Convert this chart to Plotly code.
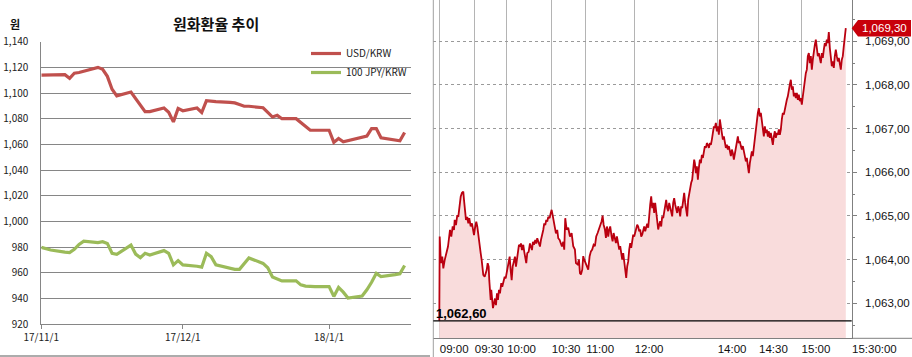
import plotly.graph_objects as go

# ---------------- Left panel: 원화환율 추이 ----------------
dates = [
    "2017-11-01", "2017-11-02", "2017-11-03", "2017-11-06", "2017-11-07", "2017-11-08", "2017-11-09", "2017-11-10",
    "2017-11-13", "2017-11-14", "2017-11-15", "2017-11-16", "2017-11-17",
    "2017-11-20", "2017-11-21", "2017-11-22", "2017-11-23", "2017-11-24",
    "2017-11-27", "2017-11-28", "2017-11-29", "2017-11-30",
    "2017-12-01",
    "2017-12-04", "2017-12-05", "2017-12-06", "2017-12-07", "2017-12-08",
    "2017-12-11", "2017-12-12", "2017-12-13", "2017-12-14", "2017-12-15",
    "2017-12-18", "2017-12-19", "2017-12-20", "2017-12-21", "2017-12-22",
    "2017-12-25", "2017-12-26", "2017-12-27", "2017-12-28", "2017-12-29",
    "2018-01-01", "2018-01-02", "2018-01-03", "2018-01-04", "2018-01-05",
    "2018-01-08", "2018-01-09", "2018-01-10", "2018-01-11", "2018-01-12",
    "2018-01-15", "2018-01-16", "2018-01-17",
]
usd_krw = [
    1114.0, 1114.0, 1114.2, 1114.3, 1111.5, 1115.5, 1116.0, 1117.0,
    1120.0, 1118.5, 1113.0, 1103.0, 1097.8,
    1100.8, 1096.0, 1091.0, 1085.5, 1085.5,
    1088.3, 1085.0, 1077.5, 1088.0,
    1086.2,
    1088.3, 1084.8, 1094.0, 1093.5, 1093.3,
    1092.7, 1092.3, 1091.0, 1089.7, 1089.7,
    1088.5, 1085.0, 1081.3, 1082.6, 1080.0,
    1080.0, 1077.0, 1074.0, 1071.0, 1071.0,
    1071.0, 1061.5, 1064.6, 1062.0, 1062.8,
    1065.6, 1066.4, 1072.3, 1072.3, 1065.1,
    1063.5, 1062.8, 1069.3,
]
jpy100_krw = [
    979.7, 978.6, 977.7, 976.0, 975.6, 978.2, 982.0, 984.6,
    983.4, 984.1, 982.8, 975.1, 974.3,
    981.5, 974.5, 971.7, 975.1, 973.8,
    977.2, 975.1, 966.1, 969.4,
    966.1,
    965.0, 964.3, 975.1, 972.5, 966.1,
    963.0, 962.6, 962.6, 967.0, 971.5,
    967.2, 963.8, 956.7, 955.2, 953.6,
    953.6, 950.5, 949.5, 949.2, 949.2,
    949.2, 941.5, 948.5, 944.8, 940.2,
    941.8, 946.7, 952.5, 959.5, 957.0,
    958.5, 959.2, 965.6,
]
left_tick_dates = ["2017-11-01", "2017-12-01", "2018-01-01"]
left_tick_labels = ["17/11/1", "17/12/1", "18/1/1"]
left_y_ticks = [920, 940, 960, 980, 1000, 1020, 1040, 1060, 1080, 1100, 1120, 1140]

# ---------------- Right panel: intraday USD/KRW ----------------
tick_pos = [
    0, 0.4, 1.4, 2.0, 3.0, 4.0, 5.4, 7.4, 8.7, 9.7,
    10.7, 12.0, 13.4, 14.7, 15.4, 16.7, 18.0, 19.0, 20.0, 21.4,
    22.7, 24.0, 24.7, 25.7, 26.7, 28.0, 29.0, 30.0, 31.4, 32.7,
    33.7, 34.7, 35.7, 37.0, 38.0, 39.0, 40.0, 41.4, 42.4, 43.4,
    44.0, 45.4, 46.4, 47.4, 48.4, 49.4, 50.0, 50.7, 51.4, 52.0,
    53.0, 53.7, 54.7, 55.7, 56.7, 57.7, 58.7, 59.7, 60.7, 62.0,
    63.0, 64.4, 65.4, 66.4, 67.4, 68.4, 69.4, 70.4, 71.4, 72.4,
    73.4, 74.7, 75.7, 76.7, 77.7, 78.7, 79.7, 80.7, 81.7, 82.7,
    84.0, 85.0, 86.0, 87.0, 88.0, 89.4, 90.7, 91.7, 92.7, 93.7,
    94.7, 96.0, 97.0, 98.0, 99.4, 100.7, 101.7, 103.0, 104.0, 105.0,
    106.0, 107.0, 108.0, 109.0, 110.4, 111.4, 112.4, 113.4, 114.4, 115.4,
    116.7, 118.0, 119.0, 120.4, 121.4, 122.7, 124.0,
    125.0, 126.0, 127.4, 129.0, 130.7, 132.4, 134.0, 135.7, 136.7, 138.4,
    139.7, 140.7, 141.7, 143.0, 144.0, 145.0, 146.4, 147.7, 149.0, 150.4,
    151.7, 153.0, 154.4, 155.7, 157.0, 158.4, 159.7, 161.0, 162.4, 163.4,
    164.4, 165.7, 166.7, 167.7, 169.0, 170.0, 171.0, 172.4, 173.4, 174.4,
    175.7, 176.7, 177.7, 179.0,
    180, 181, 182, 183, 184, 185, 186, 187, 188, 189,
    190, 191, 192, 193, 194, 195, 196, 197, 198, 199,
    200, 201, 202, 203, 204, 205, 206, 207, 208, 209,
    210, 211, 212, 213, 214, 215, 216, 217, 218, 219,
    220, 221, 222, 223, 224, 225, 226, 227, 228, 229,
    230, 231, 232, 233, 234, 235, 236, 237, 238, 239,
    240, 241, 242, 243, 244, 245, 246, 247, 248, 249,
    250, 251, 252, 253, 254, 255,
    255.7, 256.7, 257.7, 258.7, 259.7, 260.7, 261.7, 262.7, 263.7, 264.7,
    265.7, 266.7, 267.7, 268.7, 269.7, 270.7, 271.7, 272.7, 273.7, 274.7,
    275.7, 276.7, 277.7, 278.7, 279.7, 280.7, 281.7, 282.7, 283.7, 284.7,
    285.7, 286.7, 287.7, 288.7, 289.7, 290.7, 291.7, 292.7, 293.7, 294.7,
    295.7, 296.7, 297.7, 298.7, 299.7, 300.7, 301.7, 302.7, 303.7, 304.7,
    305.7, 306.7, 307.7, 308.7, 309.7, 310.7, 311.7, 312.7, 313.7, 314.7,
    315.7, 316.7, 317.7, 318.7, 319.7, 320.7, 321.7, 322.7, 323.7, 324.7,
    325.7, 326.7, 327.7, 328.7, 329.7, 330.7, 331.7, 332.7, 333.7, 334.7,
    335.7, 336.7, 337.7, 338.7, 339.7, 340.7, 341.7, 342.7, 343.7, 344.7,
    345.7, 346.7, 347.7, 348.7, 349.7, 350.7, 351.7, 352.7, 353.7, 354.7,
    355.7, 356.7, 357.7, 358.7, 359.7, 360.7, 361.7, 362.7, 363.7, 364.7,
    365.7, 366.7, 367.7, 368.7, 369.7, 370.7, 371.7, 372.7, 373.7, 374.7,
    375.7, 376.7, 377.7, 378.7, 379.7, 380.7, 381.7, 382.7, 383.7, 384.7,
    385.7, 386.7, 387.7, 388.7, 389.7, 390.7, 391.7, 392.7, 393.7, 394.7,
    395.7, 396.7, 397.7, 398.7, 399.7, 400.7, 401.7, 402.7, 403.7, 404.7,
    405.7, 406.4, 406.7,
]
intraday = [
    1062.60, 1064.53, 1064.03, 1063.92, 1064.07, 1063.80, 1063.99, 1064.15, 1064.30, 1064.49,
    1064.68, 1064.53, 1064.76, 1064.68, 1064.91, 1064.79, 1065.02, 1064.98, 1065.21, 1065.44,
    1065.53, 1065.56, 1065.37, 1065.10, 1064.91, 1064.98, 1064.83, 1064.95, 1064.76, 1064.83,
    1064.64, 1064.56, 1064.72, 1064.87, 1064.76, 1064.53, 1064.30, 1064.15, 1063.99, 1063.76,
    1063.65, 1063.61, 1063.69, 1063.76, 1063.92, 1063.84, 1063.53, 1063.23, 1063.08, 1063.31,
    1063.04, 1062.89, 1063.00, 1063.11, 1062.96, 1063.23, 1063.08, 1063.31, 1063.23, 1063.46,
    1063.38, 1063.53, 1063.61, 1063.57, 1063.69, 1063.80, 1063.92, 1064.07, 1063.76, 1063.53,
    1063.84, 1063.99, 1064.07, 1063.84, 1063.99, 1064.22, 1064.34, 1064.30, 1064.37, 1064.22,
    1064.34, 1064.18, 1064.07, 1063.92, 1064.15, 1064.18, 1064.37, 1064.30, 1064.22, 1064.41,
    1064.34, 1064.45, 1064.37, 1064.49, 1064.37, 1064.30, 1064.45, 1064.56, 1064.68, 1064.83,
    1064.79, 1064.91, 1064.87, 1064.98, 1064.95, 1065.06, 1065.14, 1065.02, 1064.87, 1064.79,
    1064.60, 1064.68, 1064.49, 1064.45, 1064.37, 1064.30, 1064.41,
    1064.23, 1064.95, 1064.69, 1064.73, 1064.53, 1064.61, 1064.31, 1064.23, 1063.92, 1063.89,
    1064.00, 1063.69, 1063.66, 1063.77, 1064.08, 1064.00, 1063.92, 1063.89, 1063.77, 1064.08,
    1064.19, 1064.23, 1064.34, 1064.31, 1064.53, 1064.61, 1064.69, 1064.76, 1064.88, 1065.01,
    1064.80, 1064.69, 1064.50, 1064.76, 1064.53, 1064.69, 1064.76, 1064.53, 1064.42, 1064.61,
    1064.50, 1064.38, 1064.53, 1064.34,
    1064.23, 1064.31, 1064.08, 1064.00, 1064.15, 1063.96, 1063.77, 1063.58, 1063.85, 1063.96,
    1064.23, 1064.38, 1064.27, 1064.50, 1064.57, 1064.53, 1064.65, 1064.73, 1064.80, 1064.76,
    1064.65, 1064.69, 1064.53, 1064.57, 1064.69, 1064.76, 1064.65, 1064.76, 1064.82, 1064.73,
    1065.07, 1065.26, 1065.45, 1065.18, 1065.30, 1065.07, 1065.30, 1065.03, 1064.92, 1064.69,
    1064.80, 1064.88, 1064.76, 1064.99, 1064.95, 1065.07, 1065.22, 1065.37, 1065.18, 1065.11,
    1065.30, 1065.18, 1065.07, 1064.99, 1065.30, 1065.41, 1065.26, 1065.18, 1065.07, 1065.22,
    1065.15, 1064.99, 1065.22, 1065.18, 1065.37, 1065.53, 1065.30, 1065.18, 1064.99, 1065.37,
    1065.53, 1065.68, 1065.76, 1065.83, 1066.06, 1066.29,
    1066.21, 1065.98, 1066.14, 1065.83, 1066.10, 1066.29, 1066.21, 1066.40, 1066.33, 1066.48,
    1066.60, 1066.56, 1066.67, 1066.63, 1066.56, 1066.67, 1066.63, 1066.75, 1066.90, 1067.05,
    1067.02, 1067.13, 1066.94, 1067.05, 1066.86, 1067.21, 1067.05, 1066.86, 1066.75, 1066.82,
    1066.63, 1066.56, 1066.63, 1066.52, 1066.60, 1066.44, 1066.37, 1066.52, 1066.44, 1066.29,
    1066.44, 1066.60, 1066.75, 1066.82, 1066.67, 1066.71, 1066.60, 1066.52, 1066.60, 1066.44,
    1066.37, 1066.25, 1066.33, 1066.14, 1065.98, 1066.21, 1066.37, 1066.48, 1066.37, 1066.60,
    1066.75, 1066.98, 1067.21, 1067.36, 1067.47, 1067.28, 1067.36, 1067.21, 1066.98, 1066.82,
    1067.05, 1066.90, 1066.98, 1066.82, 1066.94, 1066.79, 1066.90, 1066.75, 1066.63, 1066.82,
    1066.94, 1066.79, 1066.90, 1066.86, 1066.98, 1066.86, 1066.98, 1067.21, 1067.36, 1067.32,
    1067.47, 1067.55, 1067.66, 1067.74, 1067.93, 1068.01, 1068.12, 1067.89, 1067.97, 1067.74,
    1067.82, 1067.70, 1067.82, 1067.66, 1067.78, 1067.63, 1067.70, 1067.55, 1067.74, 1067.97,
    1068.16, 1068.27, 1068.35, 1068.66, 1068.73, 1068.50, 1068.66, 1068.35, 1068.58, 1068.81,
    1068.92, 1069.04, 1068.81, 1068.66, 1068.73, 1068.58, 1068.50, 1068.73, 1068.62, 1068.81,
    1068.96, 1068.89, 1069.04, 1068.96, 1069.21, 1068.85, 1068.62, 1068.43, 1068.54, 1068.39,
    1068.66, 1068.81, 1068.66, 1068.54, 1068.62, 1068.50, 1068.35, 1068.58, 1068.66, 1068.89,
    1069.19, 1069.27, 1069.30,
]
time_tick_pos = [0, 35, 67.4, 112, 146.4, 195, 278, 319.4, 362, 412.4]
time_tick_labels = ["09:00", "09:30", "10:00", "10:30", "11:00", "12:00", "14:00", "14:30", "15:00", "15:30:00"]
price_ticks = [1063, 1064, 1065, 1066, 1067, 1068, 1069]
day_low = 1062.60
last_price = 1069.30


def krw_fmt(v):
    return f"{v:,.2f}".replace(".", ",")


W, H = 912, 357


def px(x):
    return x / W


def py(y):
    return 1 - y / H


KR = "Noto Sans CJK KR"
SANS = "Liberation Sans, Arial, sans-serif"

fig = go.Figure()
fig.add_trace(go.Scatter(x=dates, y=usd_krw, name="USD/KRW", mode="lines",
                         line=dict(color="#C0504D", width=3.2), xaxis="x", yaxis="y"))
fig.add_trace(go.Scatter(x=dates, y=jpy100_krw, name="100 JPY/KRW", mode="lines",
                         line=dict(color="#9BBB59", width=3.2), xaxis="x", yaxis="y"))
fig.add_trace(go.Scatter(x=tick_pos, y=intraday, mode="lines", showlegend=False,
                         fill="tozeroy", fillcolor="#F9DCDC",
                         line=dict(color="#BA0010", width=1.8), xaxis="x2", yaxis="y2"))

fig.update_layout(
    template="none",
    width=W, height=H,
    margin=dict(l=0, r=0, t=0, b=0, pad=0, autoexpand=False),
    paper_bgcolor="white", plot_bgcolor="white",
    showlegend=True,
    legend=dict(x=px(306), y=py(39), xanchor="left", yanchor="top",
                bgcolor="rgba(0,0,0,0)", borderwidth=0,
                font=dict(family=KR, size=10, color="#222"),
                tracegroupgap=0),
    xaxis=dict(domain=[px(41.3), px(410.7)], anchor="y", type="date", automargin=False,
               range=["2017-11-01", "2018-01-18 07:00"],
               tickvals=left_tick_dates, ticktext=left_tick_labels, tickangle=0,
               showgrid=False, zeroline=False, showline=True, linecolor="#868686", linewidth=1,
               ticks="outside", ticklen=4, tickcolor="#868686",
               tickfont=dict(family=KR, size=10, color="#222")),
    yaxis=dict(domain=[py(324), py(41.7)], anchor="x", automargin=False,
               range=[920, 1140], tickvals=left_y_ticks,
               ticktext=[f"{v:,}" for v in left_y_ticks],
               showgrid=True, gridcolor="#868686", gridwidth=1, zeroline=False,
               showline=True, linecolor="#868686", ticks="",
               ticklabelstandoff=10,
               tickfont=dict(family=KR, size=10, color="#222")),
    xaxis2=dict(domain=[px(433.3), px(851.7)], anchor="y2", automargin=False,
                range=[-6, 412.6], tickvals=time_tick_pos, ticktext=time_tick_labels, tickangle=0,
                showgrid=True, gridcolor="#B4B4B4", gridwidth=1, zeroline=False,
                showline=True, linecolor="#808080", ticks="",
                ticklabelposition="outside right",
                tickfont=dict(family=SANS, size=11.5, color="#111")),
    yaxis2=dict(domain=[py(338.3), 1], anchor="x2", side="right", automargin=False,
                range=[1062.199, 1069.946], tickvals=price_ticks,
                ticktext=[krw_fmt(v) for v in price_ticks],
                showgrid=True, gridcolor="#9A9A9A", griddash="dot", gridwidth=1, zeroline=False,
                showline=True, linecolor="#808080",
                ticks="outside", ticklen=4, tickcolor="#808080",
                minor=dict(ticks="outside", ticklen=2, dtick=0.5, tick0=1063, tickcolor="#808080", showgrid=False),
                ticklabelstandoff=6,
                tickfont=dict(family=SANS, size=11.5, color="#111")),
)

shapes = [
    dict(type="line", xref="paper", yref="paper", x0=px(433.3), x1=px(433.3), y0=0, y1=1,
         line=dict(color="#A0A0A0", width=1)),
    dict(type="line", xref="paper", yref="paper", x0=0, x1=px(430), y0=py(356), y1=py(356),
         line=dict(color="#909090", width=1.5)),
    dict(type="line", xref="paper", yref="paper", x0=px(851.7), x1=1, y0=py(338.3), y1=py(338.3),
         line=dict(color="#808080", width=1)),
    dict(type="line", xref="paper", yref="y2", x0=px(433.3), x1=px(851.7), y0=day_low, y1=day_low,
         line=dict(color="black", width=1.2)),
    dict(type="path", xref="paper", yref="y2",
         path=(f"M {px(851.7)},{last_price} L {px(858)},{last_price + 0.19} "
               f"L {px(911)},{last_price + 0.19} L {px(911)},{last_price - 0.19} "
               f"L {px(858)},{last_price - 0.19} Z"),
         fillcolor="#C8000A", line=dict(width=0)),
]
fig.update_layout(shapes=shapes)

annotations = [
    dict(text="<b>원화환율 추이</b>", xref="paper", yref="paper", x=px(216), y=py(24),
         xanchor="center", yanchor="middle",
         showarrow=False, font=dict(family=KR, size=15, color="#111")),
    dict(text="<b>원</b>", xref="paper", yref="paper", x=px(15), y=py(24),
         xanchor="center", yanchor="middle",
         showarrow=False, font=dict(family=KR, size=11, color="#111")),
    dict(text="<b>" + krw_fmt(day_low) + "</b>", xref="paper", yref="y2", x=px(434), y=day_low,
         xanchor="left", yanchor="bottom", yshift=-2, showarrow=False,
         font=dict(family=SANS, size=13, color="black")),
    dict(text=krw_fmt(last_price), xref="paper", yref="y2", x=px(884.5), y=last_price,
         xanchor="center", yanchor="middle", showarrow=False,
         font=dict(family=SANS, size=11.5, color="white")),
]
fig.update_layout(annotations=annotations)

fig.write_html("out.html",
               config={"displayModeBar": False},
               post_script="document.body.style.margin='0';document.body.style.padding='0';")
